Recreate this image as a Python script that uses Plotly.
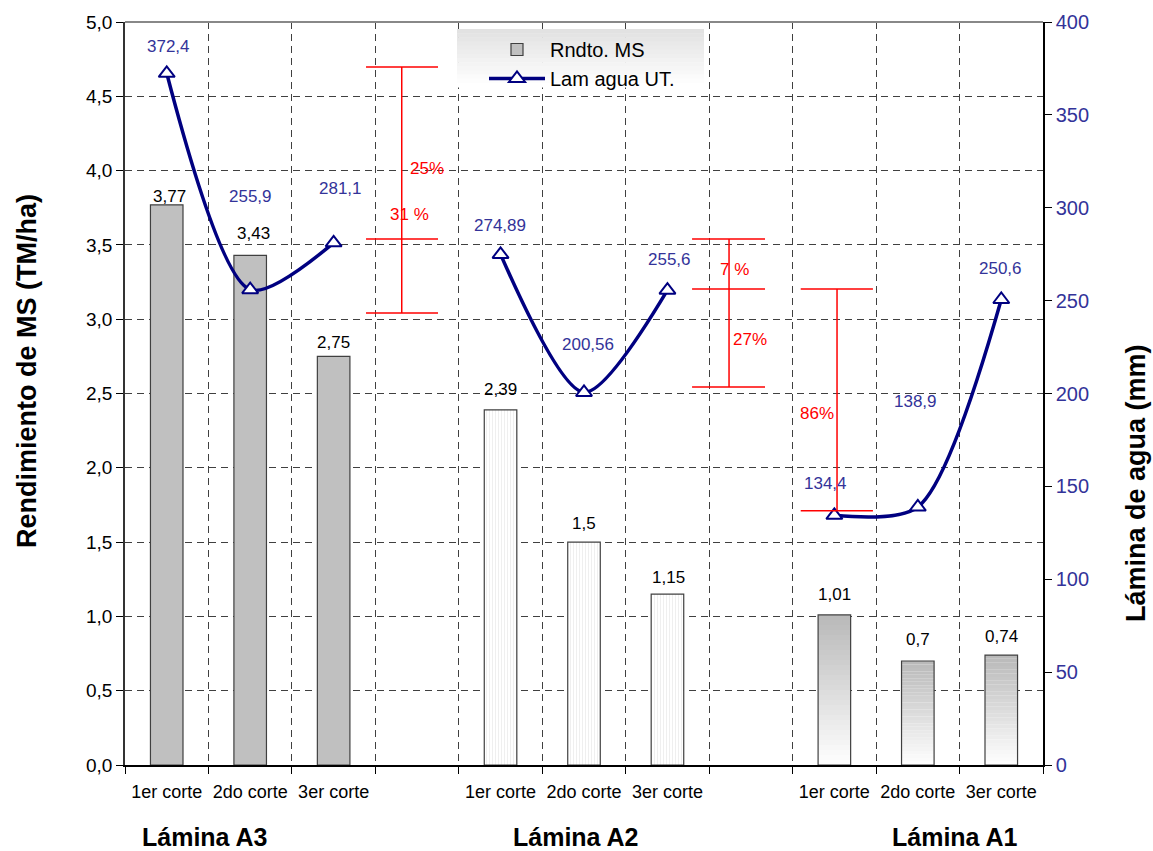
import plotly.graph_objects as go

# ---- data -------------------------------------------------------------
cortes = ["1er corte", "2do corte", "3er corte"]
laminas = ["Lámina A3", "Lámina A2", "Lámina A1"]

# Rendimiento de materia seca (TM/ha) por corte
rndto_a3 = [3.77, 3.43, 2.75]
rndto_a2 = [2.39, 1.5, 1.15]
rndto_a1 = [1.01, 0.7, 0.74]

# Lámina de agua utilizada (mm) por corte
lam_a3 = [372.4, 255.9, 281.1]
lam_a2 = [274.89, 200.56, 255.6]
lam_a1 = [134.4, 138.9, 250.6]

# Niveles (mm) de las llaves de diferencia porcentual y sus rótulos
llave_a3 = [375.8, 283.2, 243.3]
llave_a2 = [283.2, 256.3, 203.5]
llave_a1 = [256.3, 136.9]
pct_a3 = ["25%", "31 %"]
pct_a2 = ["7 %", "27%"]
pct_a1 = ["86%"]

# ---- layout helpers ---------------------------------------------------
GROUP_STEP = 4          # 3 cortes + 1 hueco por lámina
BAR_W = 0.39
NAVY = "#000080"
LBL_BLUE = "#333399"
RED = "#ff0000"
FONT = "Liberation Sans, Arial, sans-serif"

PLOT_L, PLOT_R, PLOT_T, PLOT_B = 125, 1043, 22, 765
PLOT_W, PLOT_H = PLOT_R - PLOT_L, PLOT_B - PLOT_T


def slots(g):
    return [GROUP_STEP * g + i for i in range(len(cortes))]


def fmt(v):
    return str(v).replace(".", ",")


def px_x(p):
    return (p - PLOT_L) / PLOT_W


def px_y(p):
    return (PLOT_B - p) / PLOT_H


fig = go.Figure()

# Lámina A3: barras grises sólidas
fig.add_trace(go.Bar(
    x=slots(0), y=rndto_a3, width=BAR_W, name="Rndto. MS",
    marker=dict(color="#c0c0c0", line=dict(color="#404040", width=1.2)),
    yaxis="y", legendrank=1,
))

# Lámina A2: barras blancas con rayado vertical fino
fig.add_trace(go.Bar(
    x=slots(1), y=rndto_a2, width=BAR_W, name="Rndto. MS", showlegend=False,
    marker=dict(color="white", line=dict(color="#404040", width=1.2),
                pattern=dict(shape="|", fgcolor="#d4d4d4", bgcolor="white",
                             size=3, solidity=0.25)),
    yaxis="y",
))

# Lámina A1: barras con degradado gris (arriba) a blanco (abajo)
N_SEG = 30
for k in range(N_SEG):
    t = (k + 0.5) / N_SEG
    c = int(round(255 - (255 - 184) * t))
    fig.add_trace(go.Bar(
        x=slots(2), y=[v / N_SEG for v in rndto_a1],
        base=[v * k / N_SEG for v in rndto_a1],
        width=BAR_W, showlegend=False, hoverinfo="skip",
        marker=dict(color=f"rgb({c},{c},{c})", line=dict(width=0)),
        yaxis="y",
    ))
fig.add_trace(go.Bar(
    x=slots(2), y=rndto_a1, width=BAR_W, showlegend=False,
    marker=dict(color="rgba(0,0,0,0)", line=dict(color="#404040", width=1.2)),
    yaxis="y",
))

# Línea de lámina de agua (eje derecho), cortada entre láminas
line_x, line_y = [], []
for g, vals in enumerate([lam_a3, lam_a2, lam_a1]):
    line_x += slots(g)
    line_y += vals
    if g < 2:
        line_x.append(GROUP_STEP * g + 3)
        line_y.append(None)

fig.add_trace(go.Scatter(
    x=line_x, y=line_y, yaxis="y2", name="Lam agua UT.",
    mode="lines+markers", connectgaps=False,
    line=dict(color=NAVY, width=3.5, shape="spline", smoothing=0.8),
    marker=dict(symbol="triangle-up", size=14, color="white",
                line=dict(color=NAVY, width=2)),
    legendrank=2,
))

annotations = []

# Rótulos de las barras
bar_vals = rndto_a3 + rndto_a2 + rndto_a1
bar_x = slots(0) + slots(1) + slots(2)
bar_dy = [8, 22, 14, 20, 19, 17, 20, 21, 19]
bar_dx = [3, 3, 0, 0, 0, 1, 0, 0, 0]
for x, v, dy, dx in zip(bar_x, bar_vals, bar_dy, bar_dx):
    annotations.append(dict(
        x=x, y=v, xref="x", yref="y", text=fmt(v), showarrow=False,
        xanchor="center", yanchor="middle", yshift=dy, xshift=dx,
        font=dict(family=FONT, size=17, color="black")))

# Rótulos de la línea
lam_vals = lam_a3 + lam_a2 + lam_a1
lam_dy = [27, 93, 54, 29, 48, 31, 32, 105, 31]
lam_dx = [2, 0, 7, -1, 4, 2, -9, -2, -1]
for x, v, dy, dx in zip(bar_x, lam_vals, lam_dy, lam_dx):
    annotations.append(dict(
        x=x, y=v, xref="x", yref="y2", text=fmt(v), showarrow=False,
        xanchor="center", yanchor="middle", yshift=dy, xshift=dx,
        font=dict(family=FONT, size=17, color=LBL_BLUE)))

# Llaves rojas de diferencia porcentual
shapes = []


def llave(xc, x0, x1, niveles):
    shapes.append(dict(type="line", xref="x", yref="y2", x0=xc, x1=xc,
                       y0=min(niveles), y1=max(niveles),
                       line=dict(color=RED, width=1.5), layer="above"))
    for lv in niveles:
        shapes.append(dict(type="line", xref="x", yref="y2", x0=x0, x1=x1,
                           y0=lv, y1=lv, line=dict(color=RED, width=1.5),
                           layer="above"))


llave(2.816, 2.388, 3.251, llave_a3)
llave(6.738, 6.295, 7.169, llave_a2)
llave(8.032, 7.597, 8.462, llave_a1)

pct_pos = [(3.115, 321.4), (2.903, 296.1), (6.809, 267.0), (6.989, 229.3),
           (7.792, 189.5)]
for (px, py), txt in zip(pct_pos, pct_a3 + pct_a2 + pct_a1):
    annotations.append(dict(
        x=px, y=py, xref="x", yref="y2", text=txt, showarrow=False,
        xanchor="center", yanchor="middle",
        font=dict(family=FONT, size=17, color=RED)))

# Nombres de las láminas bajo el eje
lam_lbl_px = [205, 576, 955]
for lx, txt in zip(lam_lbl_px, laminas):
    annotations.append(dict(
        x=px_x(lx), y=px_y(837), xref="paper", yref="paper",
        text=f"<b>{txt}</b>", showarrow=False,
        xanchor="center", yanchor="middle",
        font=dict(family=FONT, size=25, color="black")))

# Títulos de ejes
annotations.append(dict(
    x=px_x(27), y=px_y(371), xref="paper", yref="paper",
    text="<b>Rendimiento de MS (TM/ha)</b>", textangle=-90, showarrow=False,
    xanchor="center", yanchor="middle",
    font=dict(family=FONT, size=27, color="black")))
annotations.append(dict(
    x=px_x(1136), y=px_y(483), xref="paper", yref="paper",
    text="<b>Lámina de agua (mm)</b>", textangle=-90, showarrow=False,
    xanchor="center", yanchor="middle",
    font=dict(family=FONT, size=27, color="black")))

# Fondo de la leyenda: degradado gris claro -> blanco
LEG_L, LEG_R, LEG_T, LEG_B = 457, 704, 29, 87
N_LEG = 14
for k in range(N_LEG):
    t = k / (N_LEG - 1)
    c = int(round(226 + (255 - 226) * t))
    y0 = LEG_T + (LEG_B - LEG_T) * k / N_LEG
    y1 = LEG_T + (LEG_B - LEG_T) * (k + 1) / N_LEG
    shapes.append(dict(type="rect", xref="paper", yref="paper",
                       x0=px_x(LEG_L), x1=px_x(LEG_R),
                       y0=px_y(y1 + 0.5), y1=px_y(y0),
                       fillcolor=f"rgb({c},{c},{c})", line=dict(width=0),
                       layer="above"))

# Borde superior del área de trazado
shapes.append(dict(type="line", xref="paper", yref="paper", x0=0, x1=1,
                   y0=1, y1=1, line=dict(color="#888888", width=2)))

GRID_DASH = "7px,5px"

fig.update_layout(
    width=1153, height=851,
    margin=dict(l=PLOT_L, r=1153 - PLOT_R, t=PLOT_T, b=851 - PLOT_B),
    paper_bgcolor="white", plot_bgcolor="white",
    separators=",.",
    barmode="overlay",
    font=dict(family=FONT, color="black"),
    showlegend=True,
    legend=dict(x=px_x(484), y=px_y(30), xanchor="left", yanchor="top",
                bgcolor="rgba(0,0,0,0)", borderwidth=0,
                font=dict(family=FONT, size=20, color="black"),
                traceorder="normal", itemwidth=56, tracegroupgap=0),
    xaxis=dict(
        range=[-0.5, 10.5], tickmode="array",
        tickvals=bar_x, ticktext=cortes * 3,
        ticks="", showgrid=False, zeroline=False,
        showline=True, linecolor="black", linewidth=1.5,
        ticklabelstandoff=10,
        tickfont=dict(family=FONT, size=18, color="black"),
        minor=dict(tick0=-0.5, dtick=1, ticks="outside", ticklen=7,
                   tickcolor="black", tickwidth=1,
                   showgrid=True, gridcolor="#404040", gridwidth=1,
                   griddash=GRID_DASH),
    ),
    yaxis=dict(
        range=[0, 5], dtick=0.5, tickformat=".1f",
        ticks="outside", ticklen=7, tickcolor="black",
        showline=True, linecolor="#333333", linewidth=1.5,
        showgrid=True, gridcolor="#404040", gridwidth=1, griddash=GRID_DASH,
        zeroline=False,
        tickfont=dict(family=FONT, size=19, color="black"),
    ),
    yaxis2=dict(
        range=[0, 400], dtick=50, overlaying="y", side="right",
        ticks="outside", ticklen=7, tickcolor="black",
        showline=True, linecolor="black", linewidth=1.5,
        showgrid=False, zeroline=False,
        tickfont=dict(family=FONT, size=20, color=LBL_BLUE),
    ),
    annotations=annotations,
    shapes=shapes,
)

fig.write_html("out.html")
